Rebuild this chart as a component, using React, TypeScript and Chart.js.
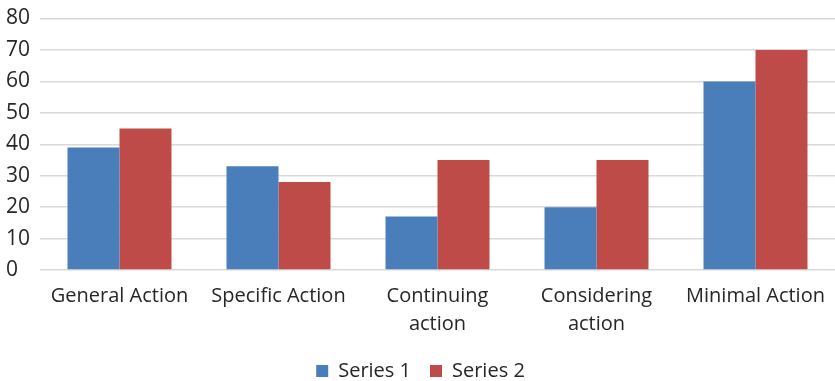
import React, { useEffect, useRef } from "react";
import { Chart, registerables } from "chart.js";

Chart.register(...registerables);

const categories: (string | string[])[] = [
  "General Action",
  "Specific Action",
  ["Continuing", "action"],
  ["Considering", "action"],
  "Minimal Action",
];
const series1 = [39, 33, 17, 20, 60];
const series2 = [45, 28, 35, 35, 70];
const seriesNames = ["Series 1", "Series 2"];
const yMin = 0;
const yMax = 80;
const yStep = 10;

const FONT = "'Open Sans', Lato, sans-serif";

export default function App() {
  const ref = useRef<HTMLCanvasElement | null>(null);

  useEffect(() => {
    document.body.style.margin = "0";
    const canvas = ref.current;
    if (!canvas) return;
    const chart = new Chart(canvas, {
      type: "bar",
      data: {
        labels: categories,
        datasets: [
          {
            label: seriesNames[0],
            data: series1,
            backgroundColor: "#4a7ebb",
            borderWidth: 0,
          },
          {
            label: seriesNames[1],
            data: series2,
            backgroundColor: "#be4b48",
            borderWidth: 0,
          },
        ],
      },
      options: {
        responsive: false,
        animation: false,
        layout: { padding: { left: 6, right: 0, top: 0, bottom: -10 } },
        datasets: {
          bar: { categoryPercentage: 0.654, barPercentage: 1.0 },
        },
        plugins: {
          tooltip: { enabled: false },
          legend: {
            position: "bottom",
            labels: {
              color: "#262626",
              font: { family: FONT, size: 20 },
              boxWidth: 12,
              boxHeight: 12,
              padding: 19,
            },
          },
        },
        scales: {
          x: {
            grid: { display: false },
            border: { display: false },
            ticks: {
              color: "#262626",
              font: { family: FONT, size: 20, lineHeight: 1.4 },
              maxRotation: 0,
              autoSkip: false,
              padding: 4,
            },
          },
          y: {
            min: yMin,
            max: yMax,
            ticks: {
              stepSize: yStep,
              color: "#262626",
              font: { family: FONT, size: 21, lineHeight: 1.0 },
              crossAlign: "far",
              padding: 8,
            },
            grid: { color: "#d9d9d9", drawTicks: false, lineWidth: 1.5 },
            border: { display: false },
            afterFit: (axis: any) => {
              axis.width = 34;
            },
          },
        },
      },
    });
    return () => chart.destroy();
  }, []);

  return (
    <div style={{ position: "absolute", left: 0, top: 0, width: 835, height: 381, background: "#fff" }}>
      <canvas ref={ref} width={835} height={381} />
    </div>
  );
}
